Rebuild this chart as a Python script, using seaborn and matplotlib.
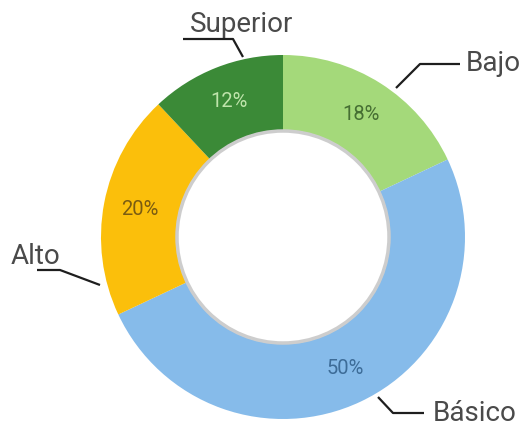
import numpy as np
import pandas as pd
import matplotlib
matplotlib.use('Agg')
import matplotlib.pyplot as plt
import seaborn as sns

# datos
niveles = ['Bajo', 'Básico', 'Alto', 'Superior']
porcentajes = [18, 50, 20, 12]
colores = ['#a4d97a', '#86bbea', '#fbbf0b', '#3b8a37']
colores_pct = ['#466f33', '#3d6c98', '#7a5c12', '#bfe4ab']

# etiquetas externas (posicion del texto, linea guia, alineacion) en pixeles
etiquetas = {
    'Bajo': ((466, 71), [(396, 88), (420, 64), (460, 64)], 'left'),
    'Básico': ((433, 421), [(378, 397), (393, 413), (424, 413)], 'left'),
    'Alto': ((11, 264), [(37, 270), (60, 270), (100, 285)], 'left'),
    'Superior': ((242, 32), [(183, 39), (233, 39), (243, 57)], 'center'),
}

sns.set_theme(style='white')
plt.rcParams['font.family'] = ['Roboto', 'DejaVu Sans']

df = pd.DataFrame({'nivel': niveles, 'pct': porcentajes})

fig = plt.figure(figsize=(5.31, 4.29), dpi=100)
ax = fig.add_axes([0, 0, 1, 1])

cx, cy, r_ext, ancho = 283, 237, 182, 75

wedges, _, autotexts = ax.pie(
    df['pct'], colors=colores, startangle=-90, counterclock=True,
    radius=r_ext, center=(cx, cy), autopct='%d%%', pctdistance=0.8,
    wedgeprops=dict(width=ancho, edgecolor='none'), frame=True,
    textprops=dict(fontsize=14.5))
for t, c in zip(autotexts, colores_pct):
    t.set_color(c)

# borde gris del hueco central
ax.add_patch(plt.Circle((cx, cy), r_ext - ancho - 1, facecolor='white',
                        edgecolor='#cdcdcd', lw=2.5, zorder=3))

for nombre, (pos, linea, ha) in etiquetas.items():
    xs, ys = zip(*linea)
    ax.plot(xs, ys, color='#1e1e1e', lw=1.6, solid_capstyle='butt', zorder=4)
    ax.text(pos[0], pos[1], nombre, fontsize=20, color='#4a4a4a',
            ha=ha, va='baseline')

ax.set_xlim(0, 531)
ax.set_ylim(429, 0)
ax.set_aspect('equal')
ax.axis('off')

fig.savefig('out.png', dpi=100, facecolor='white')
